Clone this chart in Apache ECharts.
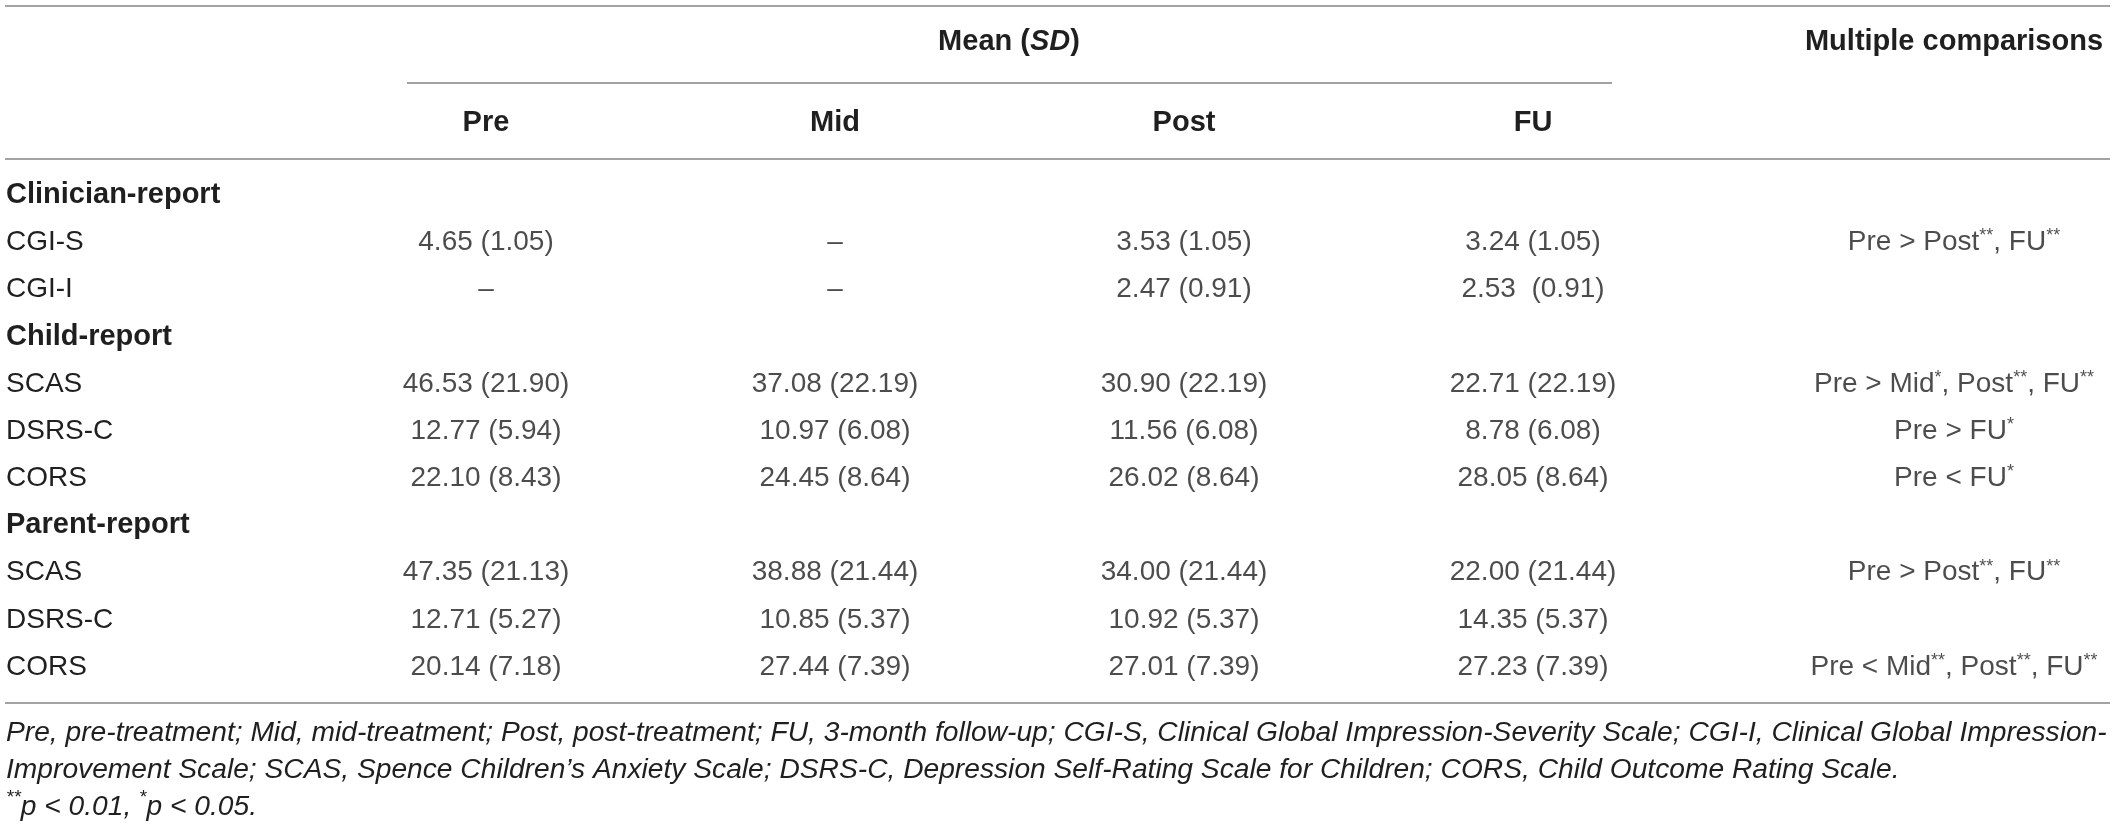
<!DOCTYPE html>
<html>
<head>
<meta charset="utf-8">
<title>Mean (SD) table</title>
<script src="https://cdn.jsdelivr.net/npm/echarts@6.0.0/dist/echarts.min.js"></script>
<style>
    html, body { margin: 0; padding: 0; background: #fff; }
    #main { width: 2117px; height: 826px; }
</style>
</head>
<body>
<div id="main"></div>
<script>
// table rows (group headers have no values)
var rowLabels = ['Clinician-report', 'CGI-S', 'CGI-I', 'Child-report', 'SCAS', 'DSRS-C', 'CORS', 'Parent-report', 'SCAS', 'DSRS-C', 'CORS'];
var groupRows = [0, 3, 7];
var timePoints = ['Pre', 'Mid', 'Post', 'FU'];

// Mean (SD) per time point, one entry per row
var preValues  = ['', '4.65 (1.05)', '–', '', '46.53 (21.90)', '12.77 (5.94)', '22.10 (8.43)', '', '47.35 (21.13)', '12.71 (5.27)', '20.14 (7.18)'];
var midValues  = ['', '–', '–', '', '37.08 (22.19)', '10.97 (6.08)', '24.45 (8.64)', '', '38.88 (21.44)', '10.85 (5.37)', '27.44 (7.39)'];
var postValues = ['', '3.53 (1.05)', '2.47 (0.91)', '', '30.90 (22.19)', '11.56 (6.08)', '26.02 (8.64)', '', '34.00 (21.44)', '10.92 (5.37)', '27.01 (7.39)'];
var fuValues   = ['', '3.24 (1.05)', '2.53  (0.91)', '', '22.71 (22.19)', '8.78 (6.08)', '28.05 (8.64)', '', '22.00 (21.44)', '14.35 (5.37)', '27.23 (7.39)'];
var comparisons = ['', 'Pre > Post**, FU**', '', '', 'Pre > Mid*, Post**, FU**', 'Pre > FU*', 'Pre < FU*', '', 'Pre > Post**, FU**', '', 'Pre < Mid**, Post**, FU**'];

var footnoteLines = [
    'Pre, pre-treatment; Mid, mid-treatment; Post, post-treatment; FU, 3-month follow-up; CGI-S, Clinical Global Impression-Severity Scale; CGI-I, Clinical Global Impression-',
    'Improvement Scale; SCAS, Spence Children\u2019s Anxiety Scale; DSRS-C, Depression Self-Rating Scale for Children; CORS, Child Outcome Rating Scale.',
    '{sup|**}{i|p} < 0.01, {sup|*}{i|p} < 0.05.'
];

var FONT = '"Liberation Sans", Arial, Helvetica, sans-serif';
var INK = '#1f1f1f';
var RULE = '#a3a3a3';

// asterisks as superscript
function sup(text) {
    return text.replace(/(\*+)/g, '{sup|$1}');
}

var cellRich = {
    sup: { fontSize: 18, fontFamily: FONT, color: INK, verticalAlign: 'top', lineHeight: 30 }
};

// cells of the mean columns
var meanColumns = [preValues, midValues, postValues, fuValues];
var meanData = [];
for (var c = 0; c < meanColumns.length; c++) {
    for (var r = 0; r < rowLabels.length; r++) {
        if (meanColumns[c][r] !== '') {
            meanData.push({ name: meanColumns[c][r], value: [c, r] });
        }
    }
}
var compData = [];
for (var r = 0; r < comparisons.length; r++) {
    if (comparisons[r] !== '') {
        compData.push({ name: comparisons[r], value: [0, r] });
    }
}

var rowTop = 171.4, rowHeight = 519.2;

var cellLabel = {
    show: true,
    position: 'inside',
    fontFamily: FONT,
    fontSize: 28,
    color: INK,
    lineHeight: 30,
    rich: cellRich,
    formatter: function (p) { return sup(p.name); }
};

var myChart = echarts.init(document.getElementById('main'), null, { renderer: 'canvas' });

var option = {
    backgroundColor: '#fff',
    animation: false,
    grid: [
        { left: 311.5, top: rowTop, width: 1396, height: rowHeight, containLabel: false, outerBoundsMode: 'none' },
        { left: 1804, top: rowTop, width: 300, height: rowHeight, containLabel: false, outerBoundsMode: 'none' }
    ],
    xAxis: [{
        type: 'category',
        gridIndex: 0,
        position: 'top',
        data: timePoints,
        axisLine: { show: false },
        axisTick: { show: false },
        splitLine: { show: false },
        axisLabel: { margin: 34, fontFamily: FONT, fontSize: 29, fontWeight: 'bold', color: INK }
    }, {
        type: 'category',
        gridIndex: 1,
        position: 'top',
        data: ['Multiple comparisons'],
        axisLine: { show: false },
        axisTick: { show: false },
        splitLine: { show: false },
        axisLabel: { margin: 115, fontFamily: FONT, fontSize: 29, fontWeight: 'bold', color: INK }
    }],
    yAxis: [{
        type: 'category',
        gridIndex: 0,
        inverse: true,
        data: rowLabels,
        axisLine: { show: false },
        axisTick: { show: false },
        splitLine: { show: false },
        axisLabel: {
            interval: 0,
            align: 'left',
            margin: 305.5,
            fontFamily: FONT,
            fontSize: 28,
            color: INK,
            formatter: function (v, i) {
                return groupRows.indexOf(i) >= 0 ? '{b|' + v + '}' : v;
            },
            rich: {
                b: { fontFamily: FONT, fontSize: 29, fontWeight: 'bold', color: INK }
            }
        }
    }, {
        type: 'category',
        gridIndex: 1,
        inverse: true,
        data: rowLabels,
        show: false
    }],
    series: [{
        name: 'Mean (SD)',
        type: 'scatter',
        xAxisIndex: 0,
        yAxisIndex: 0,
        symbolSize: 1,
        itemStyle: { color: 'rgba(0,0,0,0)' },
        silent: true,
        label: cellLabel,
        data: meanData
    }, {
        name: 'Multiple comparisons',
        type: 'scatter',
        xAxisIndex: 1,
        yAxisIndex: 1,
        symbolSize: 1,
        itemStyle: { color: 'rgba(0,0,0,0)' },
        silent: true,
        label: cellLabel,
        data: compData
    }],
    graphic: [
        // rules of the table
        { type: 'line', shape: { x1: 5, y1: 6, x2: 2110, y2: 6 }, style: { stroke: RULE, lineWidth: 2 }, silent: true },
        { type: 'line', shape: { x1: 407, y1: 83, x2: 1612, y2: 83 }, style: { stroke: RULE, lineWidth: 2 }, silent: true },
        { type: 'line', shape: { x1: 5, y1: 159, x2: 2110, y2: 159 }, style: { stroke: RULE, lineWidth: 2 }, silent: true },
        { type: 'line', shape: { x1: 5, y1: 703, x2: 2110, y2: 703 }, style: { stroke: RULE, lineWidth: 2 }, silent: true },
        {
            type: 'text',
            silent: true,
            style: {
                x: 1009, y: 42,
                text: 'Mean ({i|SD})',
                align: 'center', verticalAlign: 'middle',
                textAlign: 'center', textVerticalAlign: 'middle',
                fontFamily: FONT, fontSize: 29, fontWeight: 'bold', fill: INK,
                rich: {
                    i: { fontFamily: FONT, fontSize: 29, fontWeight: 'bold', fontStyle: 'italic', color: INK }
                }
            }
        },
        {
            // footnote
            type: 'text',
            silent: true,
            style: {
                x: 6, y: 714.5,
                text: footnoteLines.join('\n'),
                align: 'left', verticalAlign: 'top',
                textAlign: 'left', textVerticalAlign: 'top',
                fontFamily: FONT, fontSize: 28.2, fontStyle: 'italic', fill: INK,
                lineHeight: 37,
                rich: {
                    sup: { fontFamily: FONT, fontSize: 19, fontStyle: 'italic', color: INK, verticalAlign: 'top', lineHeight: 37 },
                    i: { fontFamily: FONT, fontSize: 28.2, fontStyle: 'italic', color: INK, lineHeight: 37 }
                }
            }
        }
    ]
};

myChart.setOption(option);
</script>
</body>
</html>
